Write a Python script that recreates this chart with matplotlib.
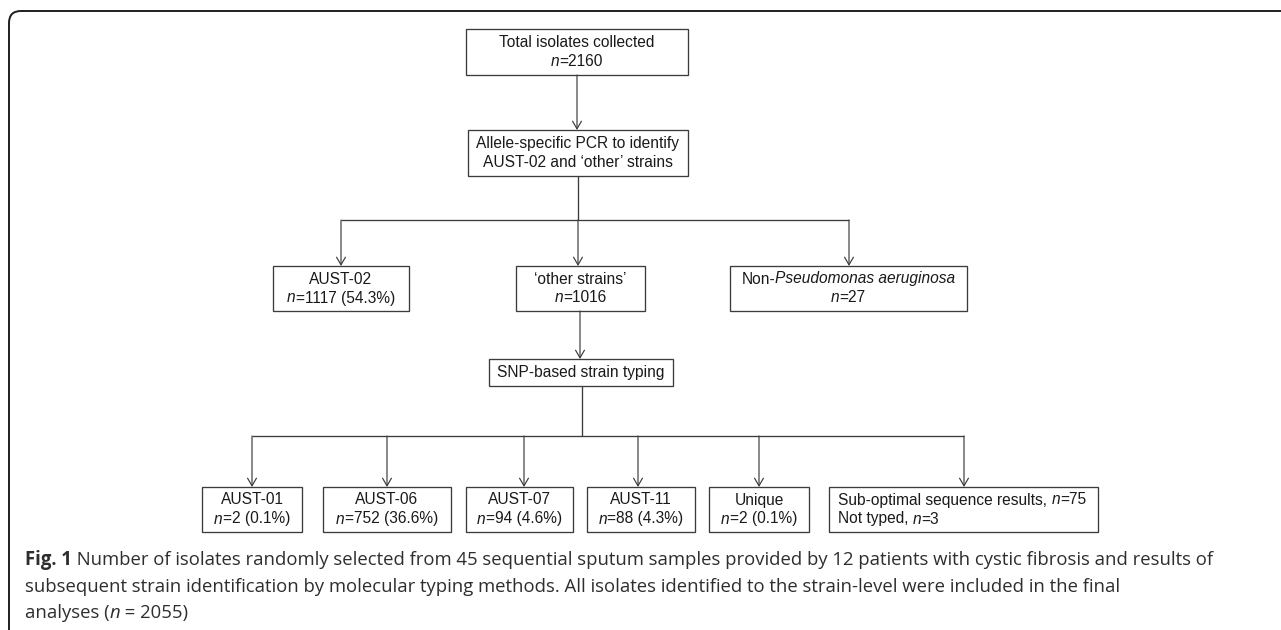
import matplotlib
matplotlib.use("Agg")
import matplotlib.pyplot as plt
from matplotlib.patches import Rectangle
from matplotlib.path import Path
from matplotlib.patches import PathPatch

# ---------------- data ----------------
total_n = 2160
split1_labels = ["AUST-02", "\u2018other strains\u2019", "Non-"]
split1_n = [1117, 1016, 27]
split1_pct = [54.3, None, None]
strain_labels = ["AUST-01", "AUST-06", "AUST-07", "AUST-11", "Unique"]
strain_n = [2, 752, 94, 88, 2]
strain_pct = [0.1, 36.6, 4.6, 4.3, 0.1]
suboptimal_n = 75
not_typed_n = 3
final_n = 2055
caption_lines = [
    " Number of isolates randomly selected from 45 sequential sputum samples provided by 12 patients with cystic fibrosis and results of",
    "subsequent strain identification by molecular typing methods. All isolates identified to the strain-level were included in the final",
]

# ---------------- style ----------------
W, H = 1281, 630
BOX_FONT = ["Liberation Sans Narrow", "Liberation Sans", "DejaVu Sans"]
CAP_FONT = ["Open Sans", "DejaVu Sans"]
BOX_FS = 11.2
CAP_FS = 13.35
EDGE = "#3c3c3c"
TXT = "#1a1a1a"
CAPC = "#2e2e2e"

fig = plt.figure(figsize=(W / 100, H / 100), dpi=100)
ax = fig.add_axes([0, 0, 1, 1])
ax.set_xlim(0, W)
ax.set_ylim(H, 0)
ax.axis("off")
renderer = fig.canvas.get_renderer()


def rich(x, y, parts, ha="center", family=BOX_FONT, fs=BOX_FS, color=TXT):
    texts, widths = [], []
    for s, style in parts:
        t = ax.text(0, y, s, va="center", ha="left", family=family,
                    fontsize=fs, color=color, **style)
        widths.append(t.get_window_extent(renderer).width)
        texts.append(t)
    total = sum(widths)
    cur = x - total / 2 if ha == "center" else x
    for t, w in zip(texts, widths):
        t.set_x(cur)
        cur += w


IT = {"style": "italic"}
RM = {}


def box(x0, x1, y0, y1):
    ax.add_patch(Rectangle((x0, y0), x1 - x0, y1 - y0, fill=False,
                           ec=EDGE, lw=0.95, zorder=2))


def arrow(x, y0, y1):
    ax.annotate("", xy=(x, y1), xytext=(x, y0),
                arrowprops=dict(arrowstyle="->,head_length=0.55,head_width=0.32",
                                lw=0.85, color=EDGE, shrinkA=0, shrinkB=0))


def line(xs, ys):
    ax.plot(xs, ys, color=EDGE, lw=0.95, solid_capstyle="butt")


def two_lines(cx, y0, y1, l1, l2):
    cy = (y0 + y1) / 2
    rich(cx, cy - 9.5, l1)
    rich(cx, cy + 9.5, l2)


def n_pct(n, pct):
    parts = [("n", IT), ("=%d" % n, RM)]
    if pct is not None:
        parts[-1] = ("=%d (%.1f%%)" % (n, pct), RM)
    return parts


# ---------------- frame ----------------
r = 12
fx, fy = 9, 11
verts = [(fx, H + 5), (fx, fy + r), (fx, fy), (fx + r, fy), (W + 5, fy)]
codes = [Path.MOVETO, Path.LINETO, Path.CURVE3, Path.CURVE3, Path.LINETO]
ax.add_patch(PathPatch(Path(verts, codes), fill=False, ec="#1e1e1e", lw=1.4))

# ---------------- level 0 / 1 ----------------
box(466, 688, 29, 75)
two_lines(577, 29, 75, [("Total isolates collected", RM)], n_pct(total_n, None))
arrow(577, 75, 130)
box(468, 688, 130, 176)
two_lines(578, 130, 176, [("Allele-specific PCR to identify", RM)],
          [("AUST-02 and \u2018other\u2019 strains", RM)])

# ---------------- split 1 ----------------
s1_boxes = [(273, 409), (516, 645), (730, 967)]
s1_x = [341, 578, 849]
line([578, 578], [176, 220])
line([s1_x[0], s1_x[-1]], [220, 220])
for i, (x0, x1) in enumerate(s1_boxes):
    arrow(s1_x[i], 220, 266)
    box(x0, x1, 266, 311)
    if i == 2:
        l1 = [(split1_labels[i], RM), ("Pseudomonas aeruginosa", IT)]
    else:
        l1 = [(split1_labels[i], RM)]
    two_lines((x0 + x1) / 2, 266, 311, l1, n_pct(split1_n[i], split1_pct[i]))

# ---------------- SNP typing ----------------
arrow(580, 311, 359)
box(489, 673, 359, 386)
rich(581, 372.5, [("SNP-based strain typing", RM)])
line([582, 582], [386, 436])

# ---------------- split 2 ----------------
s2_boxes = [(202, 302), (323, 451), (466, 573), (587, 695), (709, 809)]
s2_x = [252, 387, 524, 638, 759]
sub_box = (829, 1098)
sub_x = 964
line([s2_x[0], sub_x], [436, 436])
for i, (x0, x1) in enumerate(s2_boxes):
    arrow(s2_x[i], 436, 487)
    box(x0, x1, 487, 532)
    two_lines((x0 + x1) / 2, 487, 532, [(strain_labels[i], RM)],
              n_pct(strain_n[i], strain_pct[i]))
arrow(sub_x, 436, 487)
box(sub_box[0], sub_box[1], 487, 532)
rich(838, 500, [("Sub-optimal sequence results, ", RM), ("n", IT),
                ("=%d" % suboptimal_n, RM)], ha="left")
rich(838, 519, [("Not typed, ", RM), ("n", IT), ("=%d" % not_typed_n, RM)],
     ha="left")

# ---------------- caption ----------------
rich(25, 560, [("Fig. 1", {"weight": "bold"}), (caption_lines[0], RM)],
     ha="left", family=CAP_FONT, fs=CAP_FS, color=CAPC)
rich(25, 586.5, [(caption_lines[1], RM)], ha="left", family=CAP_FONT,
     fs=CAP_FS, color=CAPC)
rich(25, 613, [("analyses (", RM), ("n", IT), (" = %d)" % final_n, RM)],
     ha="left", family=CAP_FONT, fs=CAP_FS, color=CAPC)

fig.savefig("out.png", dpi=100)
